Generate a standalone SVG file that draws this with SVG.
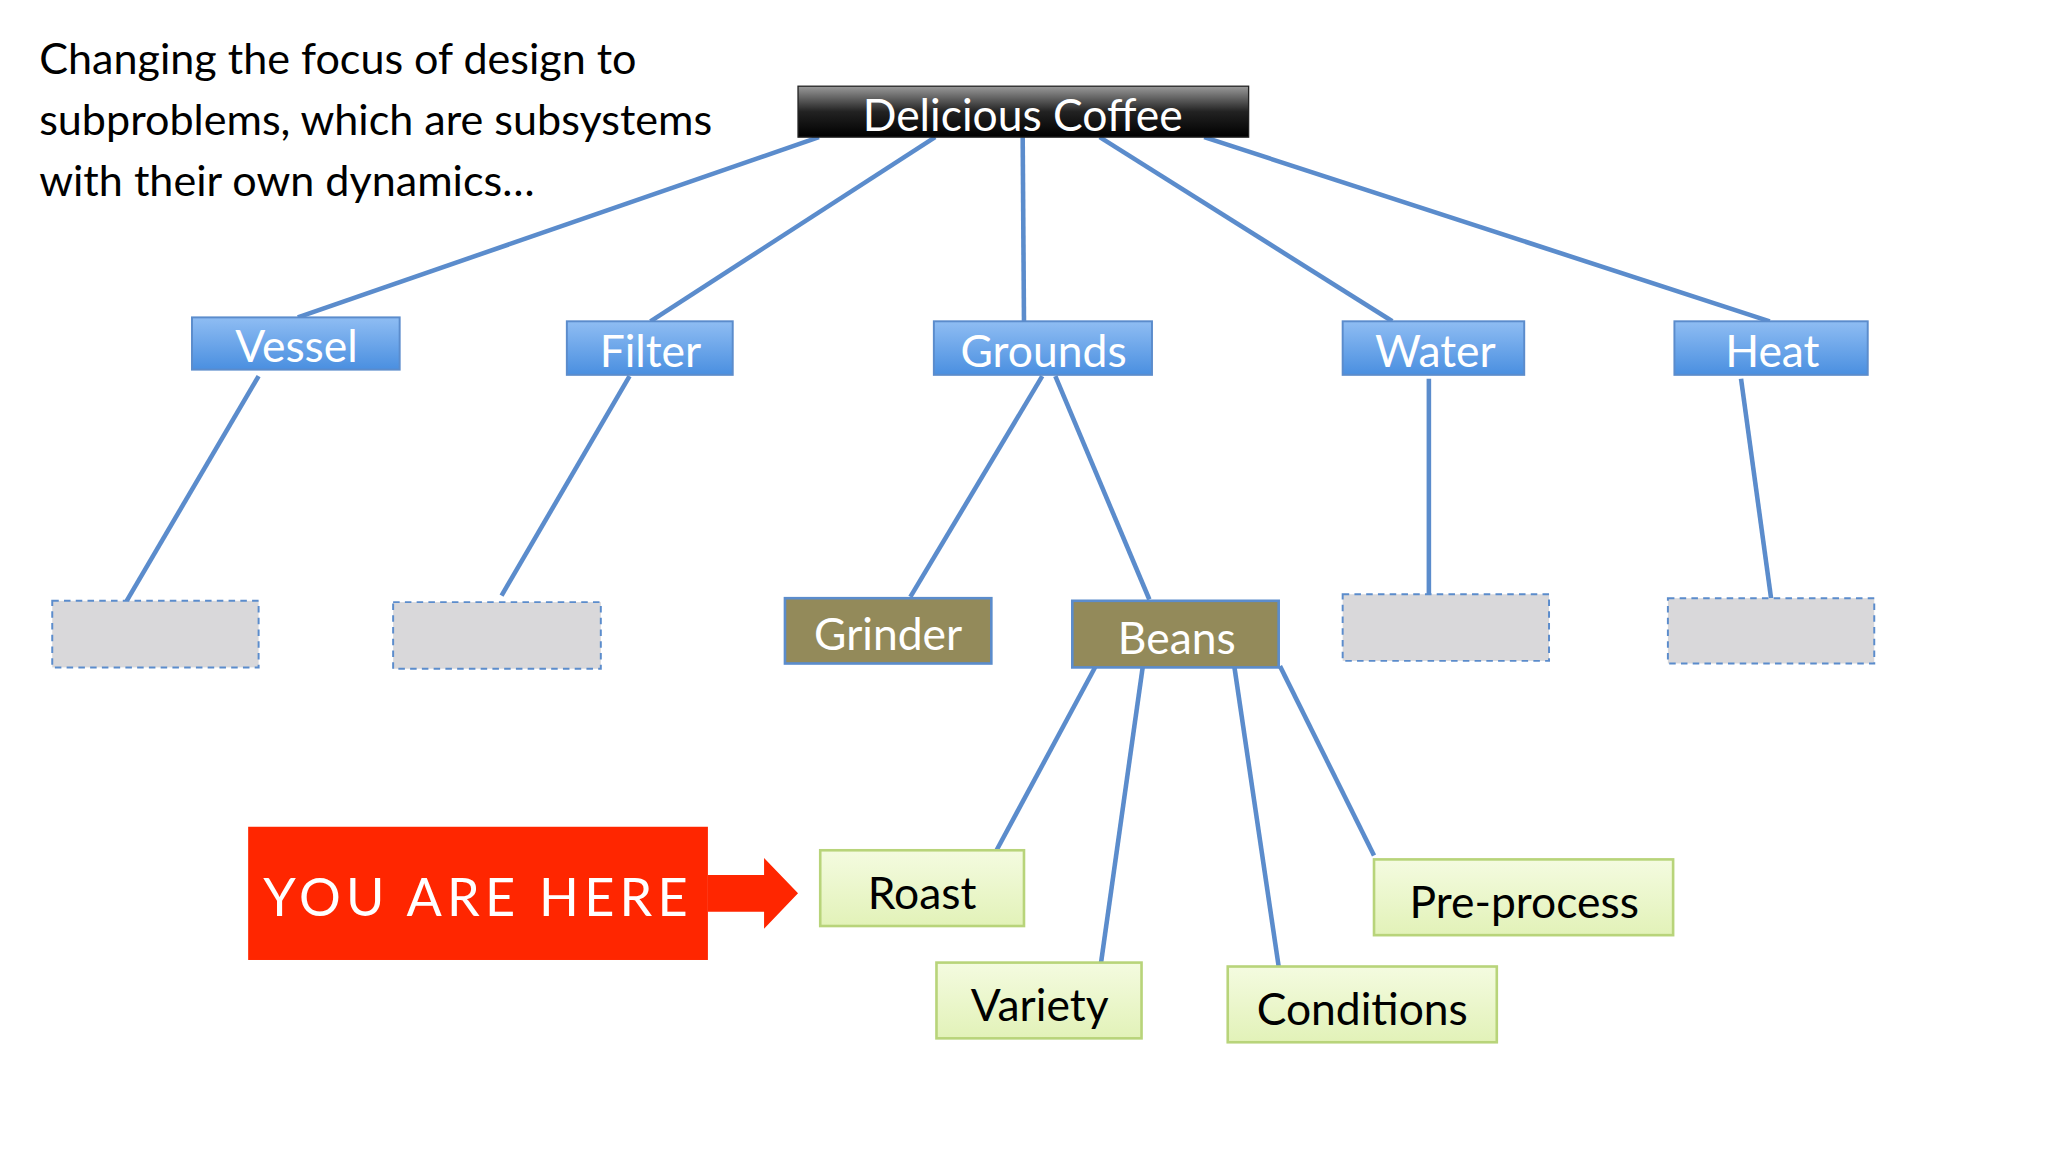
<svg xmlns="http://www.w3.org/2000/svg" width="2048" height="1152" viewBox="0 0 2048 1152">
<defs>
<linearGradient id="blk" x1="0" y1="0" x2="0" y2="1"><stop offset="0" stop-color="#9a9a9a"/><stop offset="0.5" stop-color="#222"/><stop offset="1" stop-color="#000"/></linearGradient>
<linearGradient id="blu" x1="0" y1="0" x2="0" y2="1"><stop offset="0" stop-color="#8fbdf3"/><stop offset="1" stop-color="#4a8fe0"/></linearGradient>
<linearGradient id="grn" x1="0" y1="0" x2="0" y2="1"><stop offset="0" stop-color="#f4fbe0"/><stop offset="1" stop-color="#e2f2b8"/></linearGradient>
</defs>
<style>
text{font-family:Lato,"Open Sans",sans-serif}
.c{stroke:#5b8ccc;stroke-width:3.5;fill:none}
.b{fill:url(#blu);stroke:#5b8ccc;stroke-width:1.5}
.bt{fill:#fff;font-size:34px;text-anchor:middle}
.d{fill:#d9d8da;stroke:#5b8ccc;stroke-width:1.5;stroke-dasharray:5 4}
.o{fill:#938a5a;stroke:#5b8ccc;stroke-width:2}
.g{fill:url(#grn);stroke:#b8d47a;stroke-width:2}
.kt{fill:#000;font-size:34px;text-anchor:middle}
</style>
<g transform="scale(1.3061)">
<text x="30" y="57" font-size="33">Changing the focus of design to</text>
<text x="30" y="103" font-size="33">subproblems, which are subsystems</text>
<text x="30" y="150" font-size="33">with their own dynamics…</text>
<g id="connectors">
<line class="c" x1="627" y1="105" x2="228" y2="243"/>
<line class="c" x1="716" y1="105" x2="498" y2="246"/>
<line class="c" x1="783" y1="105" x2="784" y2="246"/>
<line class="c" x1="842" y1="105" x2="1066" y2="246"/>
<line class="c" x1="922" y1="105" x2="1355" y2="246"/>
<line class="c" x1="198" y1="288" x2="97" y2="460"/>
<line class="c" x1="482" y1="288" x2="384" y2="456"/>
<line class="c" x1="798" y1="288" x2="697" y2="457"/>
<line class="c" x1="808" y1="288" x2="880" y2="459"/>
<line class="c" x1="1094" y1="290" x2="1094" y2="456"/>
<line class="c" x1="1333" y1="290" x2="1356" y2="458"/>
<line class="c" x1="840" y1="508" x2="763" y2="651"/>
<line class="c" x1="875" y1="510" x2="843" y2="737"/>
<line class="c" x1="945" y1="510" x2="979" y2="740"/>
<line class="c" x1="980" y1="510" x2="1052" y2="655"/>
</g>
<g id="coffee"><rect x="611" y="66" width="345" height="39" fill="url(#blk)" stroke="#222"/><text x="783" y="100" class="bt">Delicious Coffee</text></g>
<g id="vessel"><rect class="b" x="147" y="243" width="159" height="40"/><text class="bt" x="227" y="277">Vessel</text></g>
<g id="filter"><rect class="b" x="434" y="246" width="127" height="41"/><text class="bt" x="498" y="281">Filter</text></g>
<g id="grounds"><rect class="b" x="715" y="246" width="167" height="41"/><text class="bt" x="799" y="281">Grounds</text></g>
<g id="water"><rect class="b" x="1028" y="246" width="139" height="41"/><text class="bt" x="1099" y="281">Water</text></g>
<g id="heat"><rect class="b" x="1282" y="246" width="148" height="41"/><text class="bt" x="1357" y="281">Heat</text></g>
<g id="e1"><rect class="d" x="40" y="460" width="158" height="51"/></g>
<g id="e2"><rect class="d" x="301" y="461" width="159" height="51"/></g>
<g id="e3"><rect class="d" x="1028" y="455" width="158" height="51"/></g>
<g id="e4"><rect class="d" x="1277" y="458" width="158" height="50"/></g>
<g id="grinder"><rect class="o" x="601" y="458" width="158" height="50"/><text x="680" y="498" class="bt" fill="#fff">Grinder</text></g>
<g id="beans"><rect class="o" x="821" y="460" width="158" height="51"/><text x="901" y="501" class="bt">Beans</text></g>
<g id="roast"><rect class="g" x="628" y="651" width="156" height="58"/><text class="kt" x="706" y="696">Roast</text></g>
<g id="variety"><rect class="g" x="717" y="737" width="157" height="58"/><text class="kt" x="796" y="782">Variety</text></g>
<g id="conditions"><rect class="g" x="940" y="740" width="206" height="58"/><text class="kt" x="1043" y="785">Conditions</text></g>
<g id="preprocess"><rect class="g" x="1052" y="658" width="229" height="58"/><text class="kt" x="1167" y="703">Pre-process</text></g>
<g id="here"><rect x="190" y="633" width="352" height="102" fill="#ff2600"/><polygon points="542,670 585,670 585,657 611,684 585,711 585,698 542,698" fill="#ff2600"/><text x="366" y="701" fill="#fff" font-size="40" text-anchor="middle" letter-spacing="4">YOU  ARE  HERE</text></g>
</g>
</svg>
